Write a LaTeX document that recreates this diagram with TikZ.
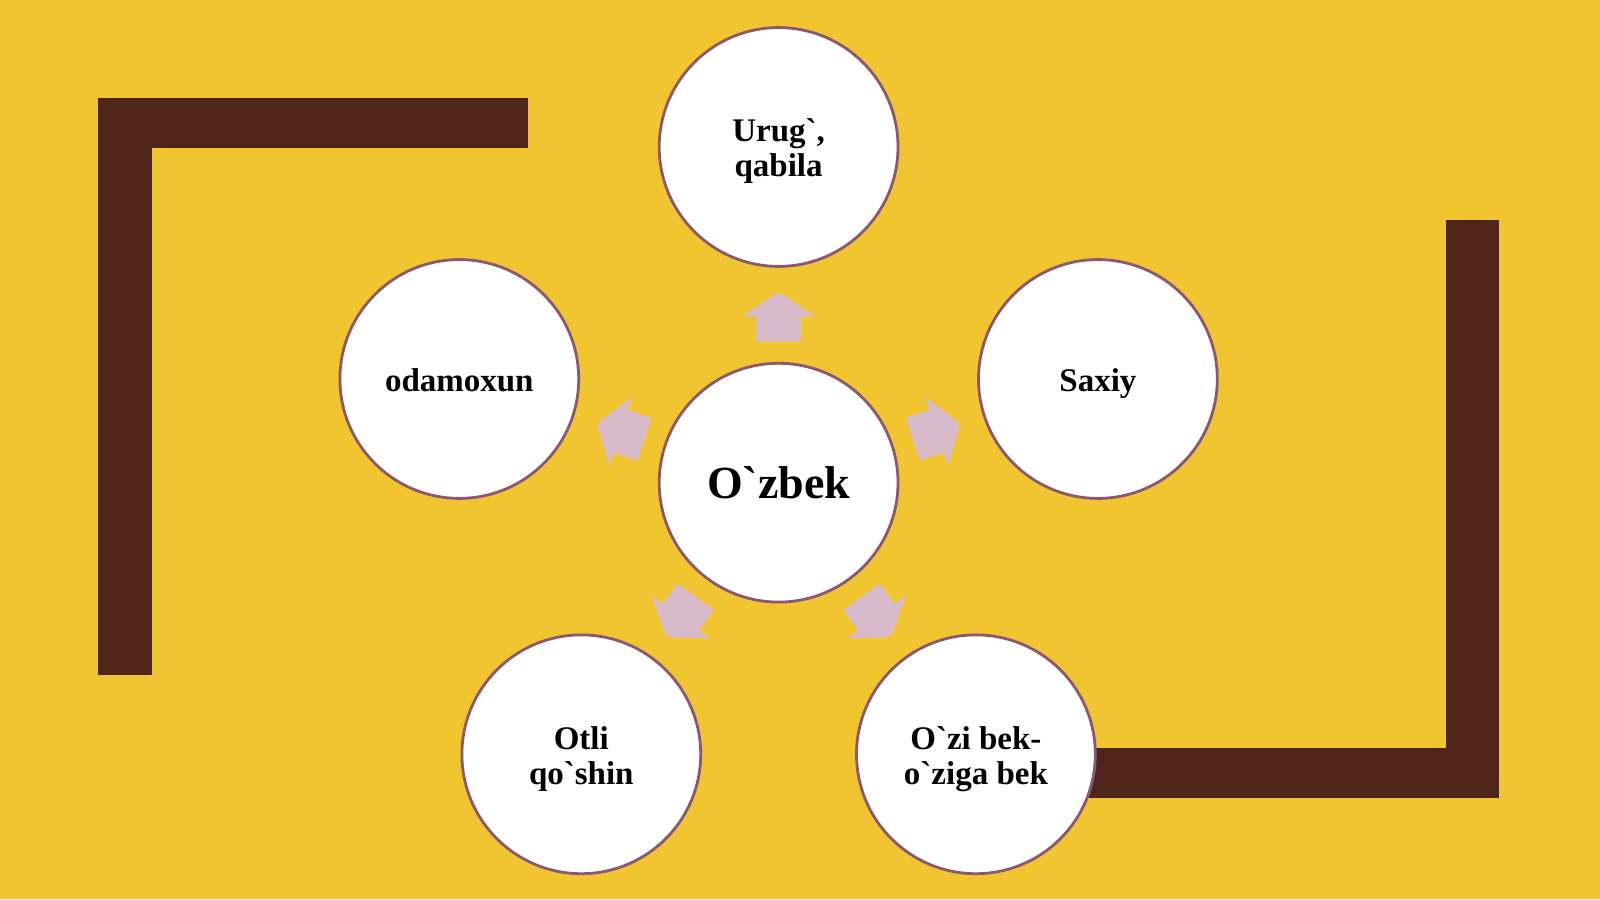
\documentclass[tikz,border=0pt]{standalone}
\usepackage{fontspec}
\setmainfont{Liberation Serif}
\newfontfamily\plainserif{Liberation Serif}
\definecolor{bgyellow}{RGB}{241,197,48}
\definecolor{barbrown}{RGB}{78,37,24}
\definecolor{ringcol}{RGB}{140,88,112}
\definecolor{arrowcol}{RGB}{214,186,202}
\newcommand\topstrut{\rule{0pt}{17.5pt}}
\tikzset{
  bubble/.style={circle, draw=ringcol, line width=1.4pt, fill=white, minimum size=119.4pt, inner sep=0pt, align=center, font=\plainserif\fontsize{16.5}{17.5}\selectfont\bfseries},
  bigbubble/.style={bubble, font=\plainserif\fontsize{23}{26}\selectfont\bfseries},
  bar/.style={fill=barbrown, draw=none},
  blockarrow/.style={fill=arrowcol, draw=none}
}
\begin{document}
\begin{tikzpicture}[x=0.5pt,y=0.5pt]
\fill[bgyellow] (0,0) rectangle (1600,899);
\useasboundingbox (0,0) rectangle (1600,899);
% brown brackets
\fill[bar] (98,801) rectangle (528,751);
\fill[bar] (98,801) rectangle (152,224);
\fill[bar] (1446,679) rectangle (1499,101);
\fill[bar] (1000,151) rectangle (1499,101);
% centre
\coordinate (O) at (778.6,416.3);
% block arrows
\foreach \a in {90,18,162,234,306}{
  \fill[blockarrow, shift={(O)}, rotate=\a-90]
    (-22.5,141) -- (22.5,141) -- (22.5,166) -- (36.5,166) -- (3,189) -- (-3,189) -- (-36.5,166) -- (-22.5,166) -- cycle;
}
% circles
\node[bigbubble] (c) at (O) {O`zbek};
\node[bubble] (t) at (778.6,752.0) {\topstrut Urug`,\\\strut qabila};
\node[bubble] (r) at (1097.9,520.0) {\topstrut\strut Saxiy};
\node[bubble] (l) at (459.3,520.0) {\topstrut\strut odamoxun};
\node[bubble] (bl) at (581.3,144.7) {\topstrut Otli\\\strut qo`shin};
\node[bubble] (br) at (975.9,144.7) {\topstrut O`zi bek-\\\strut o`ziga bek};
\end{tikzpicture}
\end{document}
